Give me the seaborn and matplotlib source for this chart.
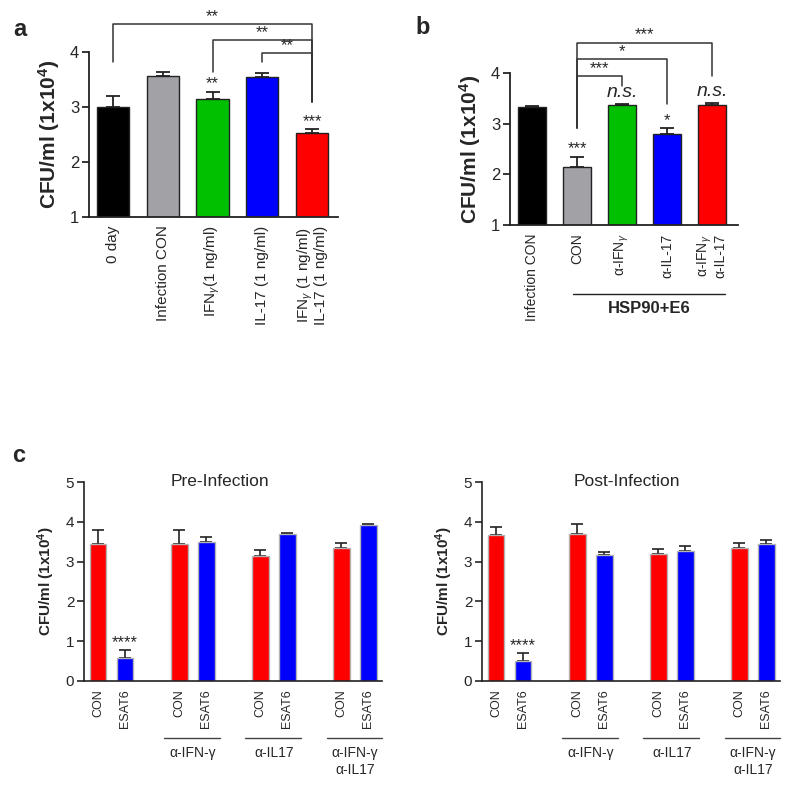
import matplotlib
matplotlib.use("Agg")
import matplotlib.pyplot as plt
import pandas as pd
import seaborn as sns

# panel a
a_labels = ["0 day", "Infection CON", "IFN$_\\gamma$(1 ng/ml)", "IL-17 (1 ng/ml)",
            "IFN$_\\gamma$ (1 ng/ml)\nIL-17 (1 ng/ml)"]
a_means = [3.00, 3.56, 3.15, 3.55, 2.53]
a_errs = [0.20, 0.08, 0.13, 0.07, 0.07]
a_colors = ["#000000", "#a2a1a6", "#00c000", "#0000ff", "#ff0000"]
a_stars = ["", "", "**", "", "***"]

# panel b
b_labels = ["Infection CON", "CON", "α-IFN$_\\gamma$", "α-IL-17", "α-IFN$_\\gamma$\nα-IL-17"]
b_means = [3.32, 2.15, 3.37, 2.79, 3.36]
b_errs = [0.02, 0.20, 0.02, 0.13, 0.05]
b_colors = ["#000000", "#a2a1a6", "#00c000", "#0000ff", "#ff0000"]
b_stars = ["", "***", "n.s.", "*", "n.s."]

# panel c
c_treat = ["CON", "ESAT6", "CON", "ESAT6", "CON", "ESAT6", "CON", "ESAT6"]
c_groups = ["none", "none", "ifn", "ifn", "il17", "il17", "both", "both"]
c_group_names = {"ifn": "α-IFN-γ", "il17": "α-IL17", "both": "α-IFN-γ\nα-IL17"}
pre_means = [3.45, 0.58, 3.45, 3.50, 3.14, 3.70, 3.33, 3.92]
pre_errs = [0.35, 0.19, 0.35, 0.13, 0.15, 0.03, 0.14, 0.02]
post_means = [3.67, 0.49, 3.70, 3.16, 3.20, 3.27, 3.35, 3.44]
post_errs = [0.19, 0.22, 0.24, 0.08, 0.11, 0.11, 0.11, 0.11]
c_colors = {"CON": "#ff0000", "ESAT6": "#0000ff"}

sns.set_theme(style="ticks")
plt.rcParams["font.family"] = ["Liberation Sans", "DejaVu Sans"]
plt.rcParams["mathtext.fontset"] = "custom"
plt.rcParams["mathtext.rm"] = "Liberation Sans"
plt.rcParams["mathtext.it"] = "Liberation Sans:italic"
plt.rcParams["mathtext.bf"] = "Liberation Sans:bold"

W, H = 787, 785
fig = plt.figure(figsize=(W / 100, H / 100), dpi=100)


def px_axes(x0, x1, ytop, ybot):
    return fig.add_axes([x0 / W, 1 - ybot / H, (x1 - x0) / W, (ybot - ytop) / H])


def style_axis(ax, ylim, yticks, tick_fs, lw=1.3):
    sns.despine(ax=ax)
    ax.set_ylim(*ylim)
    ax.set_yticks(yticks)
    ax.tick_params(axis="y", labelsize=tick_fs, length=5, width=lw, direction="out", pad=2)
    ax.tick_params(axis="x", length=0, pad=6)
    for s in ("left", "bottom"):
        ax.spines[s].set_linewidth(lw)
        ax.spines[s].set_color("#222222")
    ax.set_xlabel("")


def upper_err(ax, xs, means, errs, capsize=5, lw=1.3):
    ax.errorbar(xs, means, yerr=[[0] * len(errs), errs], fmt="none",
                ecolor="#222222", elinewidth=lw, capsize=capsize, capthick=lw, zorder=1)


def bracket(ax, x1, y1, x2, y2, ytop, label, fs=12):
    ax.plot([x1, x1, x2, x2], [y1, ytop, ytop, y2], color="#333333", lw=1.1, clip_on=False)
    ax.text((x1 + x2) / 2, ytop + 0.0, label, ha="center", va="bottom", fontsize=fs)


# ---------- panel a ----------
ax = px_axes(89, 338, 52, 217)
df_a = pd.DataFrame({"cond": a_labels, "cfu": a_means})
sns.barplot(data=df_a, x="cond", y="cfu", hue="cond", palette=a_colors, order=a_labels,
            width=0.65, saturation=1, edgecolor="#222222", linewidth=1.0, legend=False,
            ax=ax, zorder=2)
upper_err(ax, range(len(a_means)), a_means, a_errs)
style_axis(ax, (1, 4), [1, 2, 3, 4], 12)
ax.set_xlim(-0.48, 4.52)
ax.set_xticks(range(len(a_labels)))
ax.set_xticklabels(a_labels, rotation=90, fontsize=11, va="top", linespacing=0.95)
ax.set_ylabel("CFU/ml (1x10$^\\mathbf{4}$)", fontsize=15, fontweight="bold", labelpad=6)
for i, s in enumerate(a_stars):
    if s:
        ax.text(i, a_means[i] + a_errs[i] + 0.0, s, ha="center", va="bottom", fontsize=12)
bracket(ax, 0, 3.82, 4, 3.09, 4.51, "**")
bracket(ax, 2, 3.64, 4, 3.09, 4.22, "**")
bracket(ax, 3, 3.82, 4, 3.09, 3.98, "**")

# ---------- panel b ----------
ax = px_axes(510, 738, 73, 225)
df_b = pd.DataFrame({"cond": b_labels, "cfu": b_means})
sns.barplot(data=df_b, x="cond", y="cfu", hue="cond", palette=b_colors, order=b_labels,
            width=0.62, saturation=1, edgecolor="#222222", linewidth=1.0, legend=False,
            ax=ax, zorder=2)
upper_err(ax, range(len(b_means)), b_means, b_errs)
style_axis(ax, (1, 4), [1, 2, 3, 4], 12)
ax.set_xlim(-0.49, 4.58)
ax.set_xticks(range(len(b_labels)))
ax.set_xticklabels(b_labels, rotation=90, fontsize=10, va="top", linespacing=0.95)
ax.set_ylabel("CFU/ml (1x10$^\\mathbf{4}$)", fontsize=15, fontweight="bold", labelpad=6)
for i, s in enumerate(b_stars):
    if s == "n.s.":
        ax.text(i, b_means[i] + b_errs[i] + 0.06, s, ha="center", va="bottom",
                fontsize=14, style="italic")
    elif s:
        ax.text(i, b_means[i] + b_errs[i] + 0.0, s, ha="center", va="bottom", fontsize=12)
bracket(ax, 1, 2.91, 4, 3.94, 4.60, "***")
bracket(ax, 1, 2.91, 3, 3.38, 4.27, "*")
bracket(ax, 1, 2.91, 2, 3.74, 3.94, "***")
tr = ax.get_xaxis_transform()
ax.plot([0.92, 4.3], [-0.455, -0.455], color="#222222", lw=1.0, transform=tr, clip_on=False)
ax.text(2.6, -0.5, "HSP90+E6", transform=tr, ha="center", va="top",
        fontsize=12, fontweight="bold")

# ---------- panel c ----------
slot_order = ["none|CON", "none|ESAT6", "gap1", "ifn|CON", "ifn|ESAT6", "gap2",
              "il17|CON", "il17|ESAT6", "gap3", "both|CON", "both|ESAT6"]
keys = [g + "|" + t for g, t in zip(c_groups, c_treat)]
xpos = [slot_order.index(k) for k in keys]


def panel_c(x0, x1, means, errs, title, title_x):
    ax = px_axes(x0, x1, 482, 681)
    df = pd.DataFrame({"key": keys, "treat": c_treat, "cfu": means})
    sns.barplot(data=df, x="key", y="cfu", hue="treat", palette=c_colors, order=slot_order,
                width=0.62, dodge=False, saturation=1, edgecolor="#b4b4b4", linewidth=1.0,
                legend=False, ax=ax, zorder=2)
    upper_err(ax, xpos, means, errs, capsize=4, lw=1.2)
    style_axis(ax, (0, 5), [0, 1, 2, 3, 4, 5], 11, lw=1.2)
    ax.set_xlim(-0.52, 10.5)
    ax.set_xticks(xpos)
    ax.set_xticklabels(c_treat, rotation=90, fontsize=9, va="top")
    ax.set_ylabel("CFU/ml (1x10$^\\mathbf{4}$)", fontsize=11, fontweight="bold", labelpad=6)
    ax.text(title_x, 1.0, title, transform=ax.transAxes, ha="center", va="center", fontsize=12.5)
    i = c_treat.index("ESAT6")
    ax.text(xpos[i], means[i] + errs[i] + 0.0, "****", ha="center", va="bottom", fontsize=12)
    tr = ax.get_xaxis_transform()
    for g, name in c_group_names.items():
        xs = [p for p, gg in zip(xpos, c_groups) if gg == g]
        ax.plot([min(xs) - 0.55, max(xs) + 0.5], [-0.286, -0.286], color="#444444",
                lw=1.0, transform=tr, clip_on=False)
        ax.text((min(xs) + max(xs)) / 2, -0.325, name, transform=tr, ha="center",
                va="top", fontsize=10, linespacing=1.3)
    return ax


panel_c(84, 382, pre_means, pre_errs, "Pre-Infection", 0.456)
panel_c(482, 780, post_means, post_errs, "Post-Infection", 0.487)

fig.text(20 / W, 1 - 29 / H, "a", fontsize=17, fontweight="bold", ha="center", va="center")
fig.text(423 / W, 1 - 28 / H, "b", fontsize=17, fontweight="bold", ha="center", va="center")
fig.text(19 / W, 1 - 455 / H, "c", fontsize=17, fontweight="bold", ha="center", va="center")

fig.savefig("out.png", dpi=100)
